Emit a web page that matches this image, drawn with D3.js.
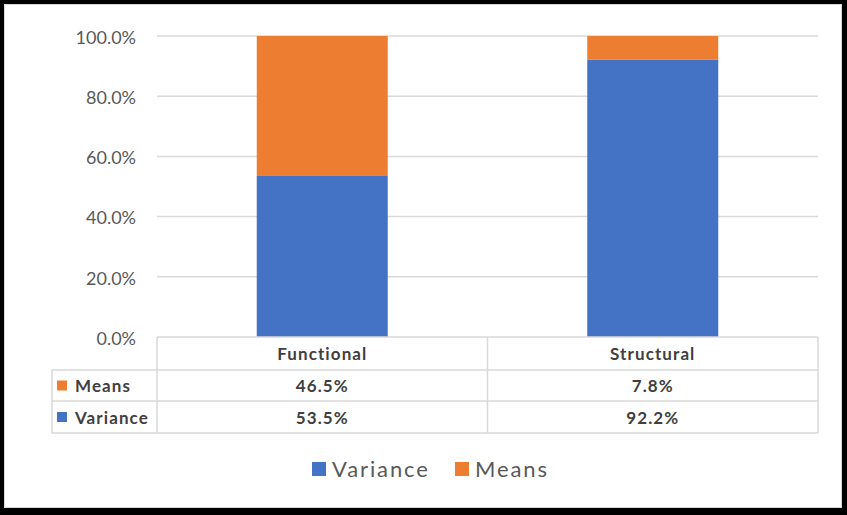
<!DOCTYPE html>
<html><head><meta charset="utf-8">
<script src="https://cdn.jsdelivr.net/npm/d3@7"></script>
<style>
html,body{margin:0;padding:0;background:#fff;}
svg{display:block;font-family:Lato,"Open Sans",sans-serif;}
</style></head>
<body>
<svg id="c" width="847" height="515"></svg>
<script>
const categories = ["Functional", "Structural"];
const seriesNames = ["Variance", "Means"];
const variance = [53.5, 92.2];
const means = [46.5, 7.8];
const yTicks = [0, 20, 40, 60, 80, 100];
const colors = {Variance: "#4472C4", Means: "#ED7D31"};

(function () {
const svg = d3.select("#c");
const W = 847, H = 515;

// outer frame
svg.append("rect").attr("x", 0).attr("y", 0).attr("width", W).attr("height", H).attr("fill", "#000");
svg.append("rect").attr("x", 4).attr("y", 4).attr("width", W - 9).attr("height", H - 11).attr("fill", "#d9d9d9");
svg.append("rect").attr("x", 5).attr("y", 5).attr("width", W - 11).attr("height", H - 13).attr("fill", "#fff");

const pLeft = 157, pRight = 818, pTop = 36, pBottom = 337;
const x = d3.scaleBand().domain(categories).range([pLeft, pRight]).paddingInner(0).paddingOuter(0);
const y = d3.scaleLinear().domain([0, 100]).range([pBottom, pTop]);
const barW = 131;

// gridlines
const grid = svg.append("g");
grid.selectAll("line").data(yTicks.filter(t => t > 0)).join("line")
  .attr("x1", pLeft).attr("x2", pRight)
  .attr("y1", d => y(d)).attr("y2", d => y(d))
  .attr("stroke", "#d9d9d9").attr("stroke-width", 1.5);

// y axis
const yAxis = d3.axisLeft(y).tickValues(yTicks).tickFormat(d => d3.format(".1f")(d) + "%").tickSize(0).tickPadding(21);
const ya = svg.append("g").attr("transform", `translate(${pLeft},0)`).call(yAxis);
ya.select(".domain").remove();
ya.selectAll("text").attr("fill", "#595959").attr("font-size", 18)
  .attr("font-family", "Lato, 'Open Sans', sans-serif").attr("dy", "0.4em");

// stacked bars
const rows = categories.map((c, i) => ({cat: c, Variance: variance[i], Means: means[i]}));
const stack = d3.stack().keys(seriesNames)(rows);
svg.append("g").selectAll("g").data(stack).join("g")
  .attr("fill", d => colors[d.key])
  .selectAll("rect").data(d => d).join("rect")
  .attr("x", d => x(d.data.cat) + x.bandwidth() / 2 - barW / 2)
  .attr("width", barW)
  .attr("y", d => y(d[1]))
  .attr("height", d => y(d[0]) - y(d[1]));

// data table
const tblLeft = 52, rowH = [pBottom, 370, 401, 433];
const tc = "#d9d9d9";
const tg = svg.append("g").attr("stroke", tc).attr("stroke-width", 1.5).attr("fill", "none");
tg.append("line").attr("x1", pLeft).attr("x2", pRight).attr("y1", rowH[0]).attr("y2", rowH[0]);
[1, 2, 3].forEach(i => tg.append("line").attr("x1", tblLeft).attr("x2", pRight).attr("y1", rowH[i]).attr("y2", rowH[i]));
tg.append("line").attr("x1", tblLeft).attr("x2", tblLeft).attr("y1", rowH[1]).attr("y2", rowH[3]);
categories.forEach(c => tg.append("line").attr("x1", x(c)).attr("x2", x(c)).attr("y1", rowH[0]).attr("y2", rowH[3]));
tg.append("line").attr("x1", pRight).attr("x2", pRight).attr("y1", rowH[0]).attr("y2", rowH[3]);

const txt = svg.append("g").attr("font-weight", "bold").attr("fill", "#404040")
  .attr("font-size", 17).attr("letter-spacing", 1.1);
categories.forEach(c => txt.append("text").attr("x", x(c) + x.bandwidth() / 2).attr("y", (rowH[0] + rowH[1]) / 2 + 6.5)
  .attr("text-anchor", "middle").text(c));
const tableRows = [{name: "Means", vals: means}, {name: "Variance", vals: variance}];
tableRows.forEach((r, i) => {
  const cy = (rowH[i + 1] + rowH[i + 2]) / 2;
  svg.append("rect").attr("x", 57).attr("y", cy - 5).attr("width", 10).attr("height", 10).attr("fill", colors[r.name]);
  txt.append("text").attr("x", 75).attr("y", cy + 6.5).text(r.name);
  categories.forEach((c, j) => txt.append("text").attr("x", x(c) + x.bandwidth() / 2).attr("y", cy + 6.5)
    .attr("text-anchor", "middle").text(d3.format(".1f")(r.vals[j]) + "%"));
});

// legend
const leg = svg.append("g");
const legItems = [{name: "Variance", x: 312}, {name: "Means", x: 455}];
legItems.forEach(it => {
  leg.append("rect").attr("x", it.x).attr("y", 462).attr("width", 14).attr("height", 14).attr("fill", colors[it.name]);
  leg.append("text").attr("x", it.x + 20).attr("y", 477).attr("font-size", 22).attr("letter-spacing", 1.9)
    .attr("fill", "#595959").text(it.name);
});
})();
</script>
</body></html>
